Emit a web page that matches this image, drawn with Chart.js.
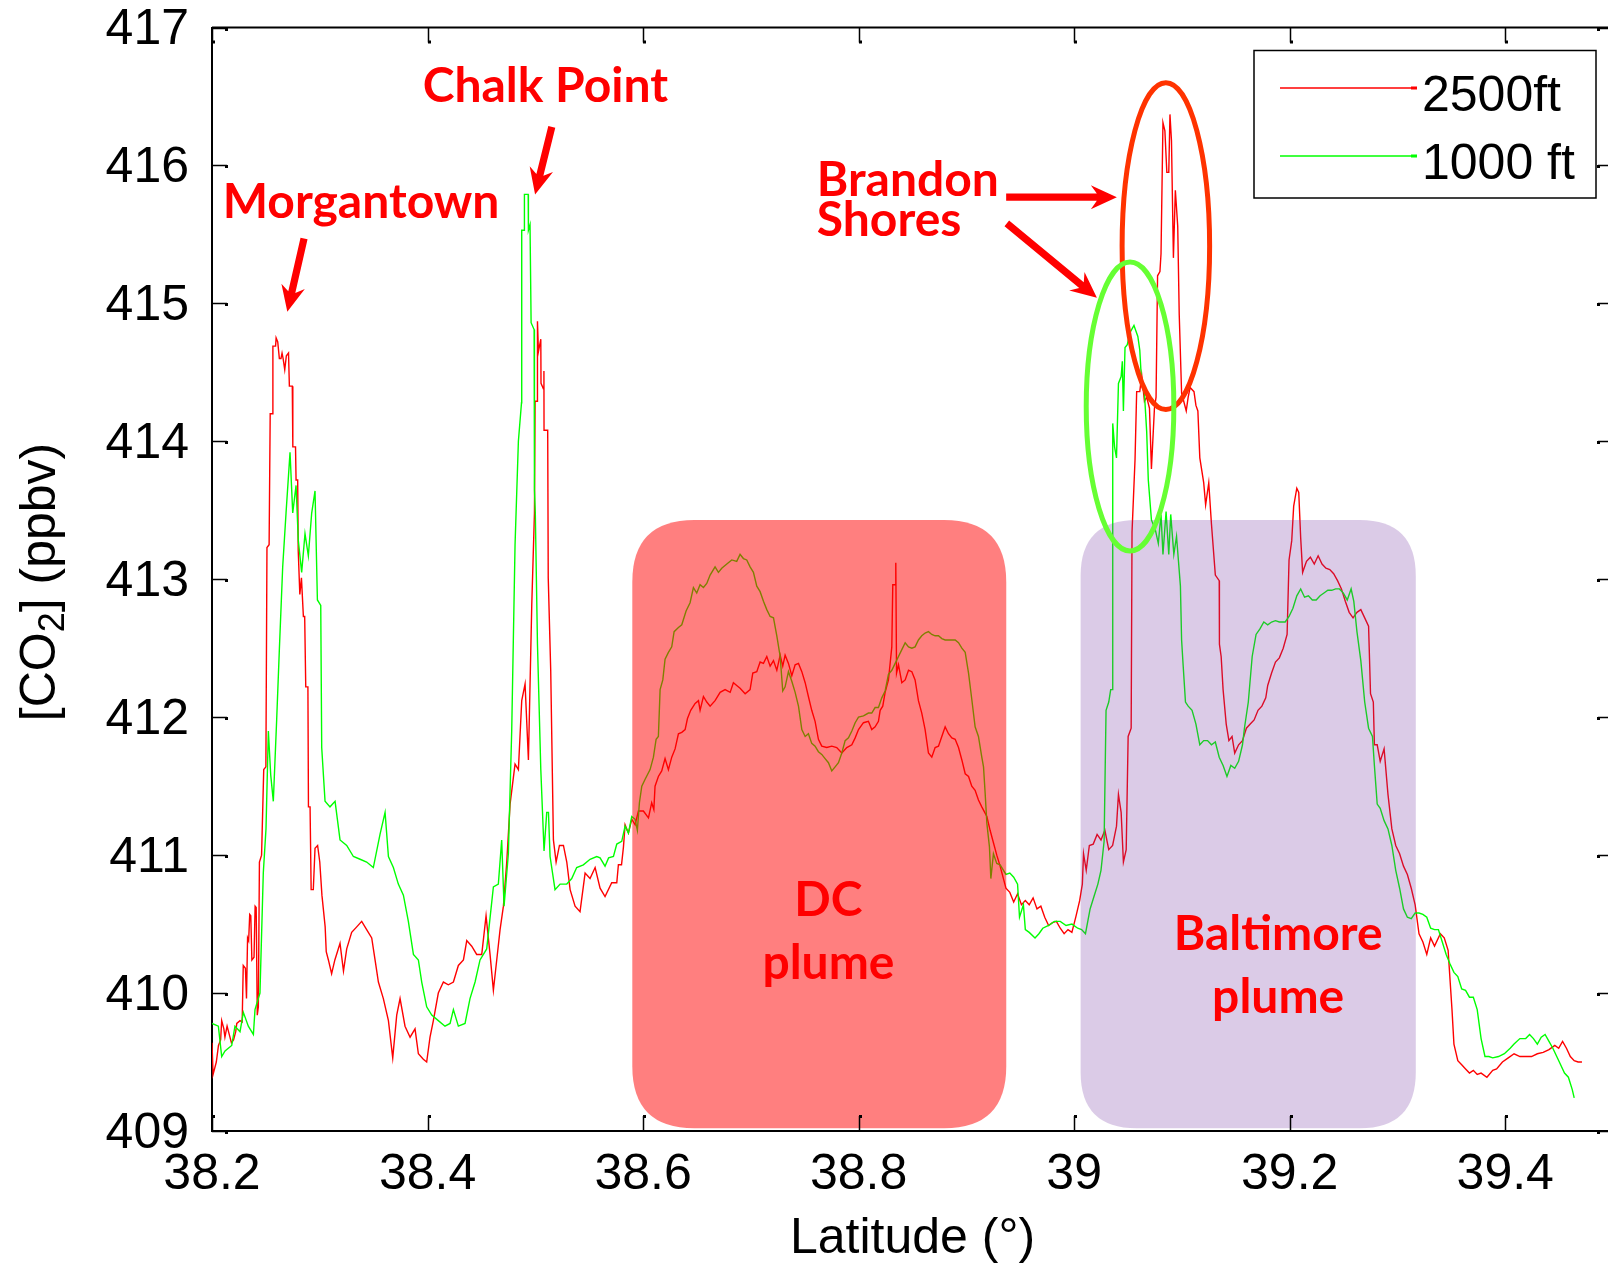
<!DOCTYPE html>
<html>
<head>
<meta charset="utf-8">
<title>CO2 vs latitude</title>
<script src="https://cdn.jsdelivr.net/npm/chart.js@4.4.0/dist/chart.umd.min.js"></script>
<style>
  html, body { margin: 0; padding: 0; background: #fff; overflow: hidden; }
  #wrap { position: absolute; left: 0; top: 0; width: 1625px; height: 1264px; }
</style>
</head>
<body>
<div id="wrap"><canvas id="co2Chart" width="1625" height="1264"></canvas></div>
<script>
// flight legs: [latitude, CO2 ppbv]
const track2500ft = [
  [38.200, 409.64], [38.201, 409.41], [38.204, 409.50], [38.206, 409.62], [38.208, 409.66], [38.209, 409.80],
  [38.211, 409.74], [38.212, 409.68], [38.214, 409.76], [38.216, 409.70], [38.218, 409.64], [38.220, 409.66],
  [38.222, 409.72], [38.223, 409.78], [38.226, 409.80], [38.228, 409.79], [38.229, 410.20], [38.231, 410.18],
  [38.232, 409.96], [38.233, 410.40], [38.234, 410.38], [38.235, 410.57], [38.236, 410.56], [38.237, 410.24],
  [38.239, 410.26], [38.240, 410.63], [38.241, 410.62], [38.242, 409.84], [38.243, 409.90], [38.244, 410.95],
  [38.246, 411.00], [38.248, 411.62], [38.250, 411.64], [38.251, 413.23], [38.253, 413.25], [38.254, 414.20],
  [38.256, 414.20], [38.2565, 414.69], [38.259, 414.69], [38.2595, 414.75], [38.261, 414.72], [38.2625, 414.60],
  [38.264, 414.60], [38.265, 414.64], [38.266, 414.60], [38.2675, 414.52], [38.269, 414.62], [38.271, 414.64],
  [38.2718, 414.40], [38.2745, 414.40], [38.275, 413.96], [38.2775, 413.96], [38.278, 413.72], [38.2795, 413.72],
  [38.280, 413.21], [38.2815, 412.89], [38.283, 413.01], [38.2848, 412.73], [38.286, 412.73], [38.287, 412.22],
  [38.289, 412.22], [38.2895, 411.35], [38.291, 411.35], [38.292, 410.75], [38.294, 410.75], [38.2956, 411.05],
  [38.298, 411.07], [38.300, 410.95], [38.302, 410.71], [38.305, 410.48], [38.306, 410.30], [38.308, 410.24],
  [38.311, 410.14], [38.314, 410.24], [38.3188, 410.36], [38.322, 410.16], [38.325, 410.32], [38.3296, 410.44],
  [38.3343, 410.48], [38.3389, 410.52], [38.3435, 410.46], [38.3482, 410.40], [38.3513, 410.24], [38.3544, 410.08],
  [38.359, 409.96], [38.3637, 409.80], [38.3677, 409.53], [38.3714, 409.84], [38.3745, 409.96], [38.3791, 409.76],
  [38.3838, 409.68], [38.3884, 409.74], [38.3915, 409.56], [38.3961, 409.52], [38.3992, 409.50], [38.4023, 409.68],
  [38.4054, 409.80], [38.410, 410.00], [38.4147, 410.08], [38.4193, 410.06], [38.424, 410.08], [38.4286, 410.20],
  [38.4333, 410.24], [38.4364, 410.38], [38.441, 410.34], [38.4456, 410.28], [38.4503, 410.28], [38.4543, 410.56],
  [38.458, 410.28], [38.4611, 410.02], [38.4642, 410.24], [38.4673, 410.46], [38.4704, 410.63], [38.4735, 410.95],
  [38.4766, 411.37], [38.4812, 411.66], [38.4843, 411.62], [38.4874, 412.12], [38.4905, 412.24], [38.4936, 411.69],
  [38.4967, 412.81], [38.4992, 413.48], [38.4998, 414.29], [38.5019, 414.29], [38.5020, 414.87], [38.5029, 414.65],
  [38.5051, 414.74], [38.5053, 414.42], [38.5075, 414.38], [38.5080, 414.51], [38.5081, 414.08], [38.5115, 414.08],
  [38.512, 413.01], [38.5143, 412.34], [38.5168, 411.11], [38.5193, 410.95], [38.5224, 411.07], [38.5261, 411.07],
  [38.5292, 410.95], [38.5323, 410.75], [38.5369, 410.63], [38.5415, 410.59], [38.5462, 410.87], [38.5508, 410.83],
  [38.5555, 410.91], [38.5601, 410.76], [38.5647, 410.70], [38.5709, 410.80], [38.5756, 410.80], [38.5771, 410.93],
  [38.5800, 410.93], [38.5818, 411.06], [38.5833, 411.22], [38.5864, 411.16], [38.5895, 411.26], [38.5926, 411.22],
  [38.5957, 411.32], [38.6003, 411.32], [38.6050, 411.27], [38.6080, 411.38], [38.6100, 411.33], [38.6111, 411.50],
  [38.6142, 411.57], [38.6173, 411.61], [38.6204, 411.70], [38.6235, 411.62], [38.6266, 411.71], [38.6297, 411.77],
  [38.6328, 411.88], [38.6359, 411.89], [38.6390, 411.91], [38.6412, 411.99], [38.6442, 412.05], [38.6483, 412.10],
  [38.6514, 412.12], [38.6529, 412.05], [38.6560, 412.15], [38.6591, 412.11], [38.6622, 412.08], [38.6668, 412.12],
  [38.6715, 412.18], [38.6761, 412.20], [38.6808, 412.18], [38.6838, 412.25], [38.6869, 412.23], [38.6900, 412.21],
  [38.6947, 412.17], [38.6993, 412.20], [38.7018, 412.32], [38.7055, 412.33], [38.7086, 412.40], [38.7117, 412.39],
  [38.7148, 412.44], [38.7179, 412.37], [38.7210, 412.41], [38.7241, 412.34], [38.7272, 412.45], [38.7296, 412.37],
  [38.7318, 412.45], [38.7349, 412.39], [38.7380, 412.30], [38.7411, 412.38], [38.7442, 412.39], [38.7473, 412.33],
  [38.7504, 412.25], [38.7534, 412.15], [38.7565, 412.05], [38.7596, 411.97], [38.7627, 411.84], [38.7658, 411.79],
  [38.7705, 411.78], [38.7751, 411.79], [38.7797, 411.78], [38.7844, 411.74], [38.7890, 411.78], [38.7937, 411.80],
  [38.7968, 411.85], [38.7999, 411.91], [38.8045, 411.96], [38.8091, 411.97], [38.8122, 411.91], [38.8153, 411.93],
  [38.8184, 411.97], [38.8200, 412.05], [38.8224, 412.08], [38.8246, 412.18], [38.8277, 412.27], [38.8308, 412.51],
  [38.8317, 412.96], [38.8340, 412.96], [38.8345, 413.12], [38.8352, 412.32], [38.8370, 412.38], [38.8401, 412.25],
  [38.8432, 412.27], [38.8463, 412.34], [38.8494, 412.33], [38.8524, 412.27], [38.8555, 412.12], [38.8586, 412.03],
  [38.8617, 411.91], [38.8648, 411.74], [38.8679, 411.71], [38.8710, 411.78], [38.8741, 411.79], [38.8772, 411.86],
  [38.8803, 411.93], [38.8834, 411.88], [38.8865, 411.85], [38.8896, 411.84], [38.8927, 411.78], [38.8958, 411.69],
  [38.8989, 411.59], [38.9020, 411.57], [38.9050, 411.50], [38.9081, 411.47], [38.9112, 411.40], [38.9143, 411.35],
  [38.9190, 411.28], [38.9220, 411.18], [38.9251, 411.09], [38.9282, 411.00], [38.9313, 410.92], [38.9367, 410.76],
  [38.9403, 410.73], [38.9439, 410.66], [38.9475, 410.72], [38.9511, 410.64], [38.9547, 410.67], [38.9583, 410.64],
  [38.9619, 410.69], [38.9655, 410.61], [38.9691, 410.63], [38.9727, 410.55], [38.9763, 410.49], [38.9799, 410.51],
  [38.9835, 410.52], [38.9871, 410.47], [38.9907, 410.43], [38.9943, 410.46], [38.9979, 410.44], [39.0015, 410.55],
  [39.0051, 410.67], [39.0076, 410.79], [39.0087, 411.01], [39.0112, 410.89], [39.0141, 411.07], [39.0177, 411.08],
  [39.0213, 411.15], [39.0249, 411.11], [39.0285, 411.18], [39.0321, 411.04], [39.0357, 411.07], [39.0393, 411.21],
  [39.0411, 411.44], [39.0436, 411.31], [39.0457, 410.95], [39.0483, 411.04], [39.0501, 411.86], [39.0529, 411.92],
  [39.0537, 413.34], [39.0565, 413.87], [39.0580, 414.36], [39.0609, 414.36], [39.0627, 414.48], [39.0652, 414.29],
  [39.0673, 414.32], [39.0699, 414.24], [39.0717, 413.80], [39.0745, 414.24], [39.0760, 414.32], [39.0774, 415.20],
  [39.0796, 415.23], [39.0806, 415.36], [39.0824, 416.31], [39.0842, 416.25], [39.0860, 415.95], [39.0878, 415.95],
  [39.0889, 416.37], [39.0903, 416.18], [39.0921, 415.33], [39.0939, 415.82], [39.0961, 415.56], [39.0975, 414.92],
  [39.0997, 414.35], [39.1040, 414.22], [39.1058, 414.32], [39.1076, 414.39], [39.1112, 414.36], [39.1130, 414.26],
  [39.1148, 414.22], [39.1166, 413.88], [39.1202, 413.70], [39.1220, 413.54], [39.1249, 413.70], [39.1274, 413.40],
  [39.1310, 413.03], [39.1346, 412.99], [39.1348, 412.53], [39.1364, 412.44], [39.1382, 412.20], [39.1411, 411.95],
  [39.1436, 411.83], [39.1465, 411.86], [39.1490, 411.74], [39.1526, 411.80], [39.1562, 411.83], [39.1598, 411.92],
  [39.1634, 411.95], [39.1670, 411.98], [39.1706, 412.05], [39.1742, 412.08], [39.1778, 412.14], [39.1796, 412.23],
  [39.1832, 412.32], [39.1868, 412.40], [39.1904, 412.43], [39.1940, 412.50], [39.1976, 412.60], [39.1994, 413.14],
  [39.2019, 413.28], [39.2037, 413.53], [39.2066, 413.66], [39.2084, 413.63], [39.2102, 413.30], [39.2120, 413.05],
  [39.2156, 413.13], [39.2192, 413.16], [39.2228, 413.11], [39.2264, 413.17], [39.2300, 413.11], [39.2336, 413.08],
  [39.2372, 413.07], [39.2408, 413.04], [39.2444, 412.99], [39.2480, 412.93], [39.2516, 412.84], [39.2552, 412.76],
  [39.2588, 412.72], [39.2624, 412.76], [39.2660, 412.78], [39.2696, 412.72], [39.2732, 412.66], [39.2750, 412.17],
  [39.2776, 412.11], [39.2786, 411.80], [39.2812, 411.80], [39.2840, 411.68], [39.2876, 411.77], [39.2912, 411.44],
  [39.2948, 411.19], [39.2984, 411.07], [39.3020, 411.01], [39.3056, 410.92], [39.3092, 410.86], [39.3128, 410.76],
  [39.3164, 410.64], [39.3200, 410.43], [39.3236, 410.37], [39.3272, 410.28], [39.3308, 410.40], [39.3344, 410.34],
  [39.3398, 410.43], [39.3434, 410.40], [39.3470, 410.31], [39.3506, 409.88], [39.3524, 409.63], [39.3560, 409.51],
  [39.3596, 409.48], [39.3632, 409.45], [39.3668, 409.42], [39.3704, 409.44], [39.3740, 409.41], [39.3776, 409.42],
  [39.3830, 409.39], [39.3884, 409.44], [39.3920, 409.45], [39.3974, 409.50], [39.4028, 409.53], [39.4082, 409.56],
  [39.4136, 409.54], [39.4190, 409.54], [39.4244, 409.54], [39.4298, 409.56], [39.4352, 409.57], [39.4406, 409.59],
  [39.4460, 409.62], [39.4496, 409.60], [39.4532, 409.65], [39.4568, 409.60], [39.4604, 409.54], [39.4640, 409.51],
  [39.4676, 409.50], [39.4712, 409.50]
];

const track1000ft = [
  [38.200, 409.78], [38.2059, 409.76], [38.209, 409.54], [38.2121, 409.58], [38.2183, 409.62], [38.2213, 409.76],
  [38.226, 409.72], [38.2291, 409.86], [38.2337, 409.76], [38.2384, 409.70], [38.2399, 409.88], [38.2445, 410.00],
  [38.2476, 410.87], [38.2501, 411.19], [38.2523, 411.90], [38.2545, 411.58], [38.2569, 411.39], [38.260, 411.98],
  [38.2625, 412.49], [38.2656, 413.09], [38.2687, 413.48], [38.2724, 413.92], [38.2749, 413.48], [38.278, 413.68],
  [38.2801, 413.28], [38.2832, 413.05], [38.2863, 413.33], [38.2894, 413.17], [38.2925, 413.48], [38.2956, 413.64],
  [38.2978, 412.85], [38.3009, 412.81], [38.3018, 411.78], [38.3049, 411.39], [38.3095, 411.35], [38.3142, 411.39],
  [38.3188, 411.11], [38.325, 411.07], [38.3312, 410.99], [38.3374, 410.97], [38.3435, 410.95], [38.3497, 410.91],
  [38.3559, 411.15], [38.3606, 411.31], [38.3637, 410.99], [38.3683, 410.91], [38.3729, 410.79], [38.3776, 410.71],
  [38.3822, 410.52], [38.3869, 410.28], [38.3915, 410.24], [38.3946, 410.08], [38.3992, 409.90], [38.4039, 409.84],
  [38.410, 409.80], [38.4162, 409.76], [38.4209, 409.78], [38.424, 409.88], [38.4286, 409.76], [38.4348, 409.78],
  [38.4394, 409.96], [38.4441, 410.08], [38.4487, 410.24], [38.4549, 410.32], [38.4611, 410.77], [38.4657, 410.79],
  [38.4688, 411.11], [38.471, 410.63], [38.475, 411.01], [38.4781, 411.90], [38.4812, 413.25], [38.4843, 414.00],
  [38.4872, 414.28], [38.4874, 415.53], [38.4897, 415.53], [38.4899, 415.79], [38.4934, 415.79], [38.4936, 415.53],
  [38.4951, 415.57], [38.4959, 415.57], [38.4961, 414.86], [38.4989, 414.81], [38.4992, 413.65], [38.5000, 413.48],
  [38.5020, 412.53], [38.5051, 411.62], [38.5081, 411.03], [38.5106, 411.31], [38.5122, 411.31], [38.5137, 410.99],
  [38.5183, 410.75], [38.5230, 410.79], [38.5292, 410.79], [38.5338, 410.83], [38.5384, 410.91], [38.5446, 410.93],
  [38.5508, 410.97], [38.5570, 410.99], [38.5601, 410.98], [38.5647, 410.92], [38.5680, 410.98], [38.5725, 410.99],
  [38.5756, 411.08], [38.5802, 411.10], [38.5833, 411.21], [38.5864, 411.16], [38.5895, 411.28], [38.5926, 411.26],
  [38.5947, 411.18], [38.5966, 411.38], [38.5988, 411.50], [38.6019, 411.55], [38.6065, 411.62], [38.6096, 411.71],
  [38.6121, 411.84], [38.6142, 411.86], [38.6158, 412.20], [38.6183, 412.27], [38.6204, 412.42], [38.6235, 412.47],
  [38.6266, 412.51], [38.6288, 412.62], [38.6328, 412.65], [38.6359, 412.67], [38.6399, 412.77], [38.6436, 412.83],
  [38.6467, 412.94], [38.6498, 412.90], [38.6529, 412.96], [38.6560, 412.94], [38.6591, 412.97], [38.6622, 413.03],
  [38.6668, 413.09], [38.6699, 413.05], [38.6730, 413.08], [38.6777, 413.11], [38.6823, 413.14], [38.6869, 413.13],
  [38.6900, 413.18], [38.6931, 413.15], [38.6962, 413.14], [38.6993, 413.09], [38.7024, 413.05], [38.7055, 412.95],
  [38.7086, 412.91], [38.7117, 412.84], [38.7148, 412.78], [38.7179, 412.73], [38.7210, 412.72], [38.7241, 412.59],
  [38.7272, 412.44], [38.7296, 412.19], [38.7318, 412.22], [38.7349, 412.33], [38.7380, 412.26], [38.7411, 412.18],
  [38.7442, 412.08], [38.7473, 411.91], [38.7504, 411.86], [38.7534, 411.88], [38.7565, 411.81], [38.7596, 411.79],
  [38.7627, 411.75], [38.7658, 411.73], [38.7689, 411.70], [38.7720, 411.67], [38.7751, 411.61], [38.7782, 411.64],
  [38.7813, 411.67], [38.7844, 411.74], [38.7875, 411.83], [38.7906, 411.85], [38.7937, 411.90], [38.7968, 411.96],
  [38.7999, 412.00], [38.8045, 412.01], [38.8091, 412.03], [38.8122, 412.03], [38.8153, 412.07], [38.8184, 412.07],
  [38.8215, 412.14], [38.8246, 412.19], [38.8277, 412.31], [38.8308, 412.34], [38.8339, 412.39], [38.8370, 412.44],
  [38.8401, 412.49], [38.8432, 412.54], [38.8463, 412.51], [38.8494, 412.50], [38.8524, 412.51], [38.8555, 412.56],
  [38.8586, 412.59], [38.8617, 412.61], [38.8648, 412.62], [38.8679, 412.60], [38.8710, 412.59], [38.8741, 412.59],
  [38.8772, 412.57], [38.8803, 412.56], [38.8865, 412.56], [38.8896, 412.56], [38.8927, 412.54], [38.8958, 412.50],
  [38.8989, 412.47], [38.9020, 412.32], [38.9050, 412.13], [38.9081, 411.93], [38.9112, 411.86], [38.9143, 411.71],
  [38.9159, 411.64], [38.9174, 411.45], [38.9190, 411.23], [38.9214, 411.06], [38.9227, 410.83], [38.9251, 411.01],
  [38.9282, 410.94], [38.9313, 410.93], [38.9367, 410.86], [38.9403, 410.87], [38.9439, 410.84], [38.9475, 410.79],
  [38.9493, 410.55], [38.9529, 410.64], [38.9547, 410.46], [38.9583, 410.44], [38.9637, 410.40], [38.9673, 410.43],
  [38.9709, 410.47], [38.9763, 410.49], [38.9817, 410.52], [38.9871, 410.52], [38.9925, 410.49], [38.9979, 410.50],
  [39.0033, 410.47], [39.0069, 410.46], [39.0105, 410.43], [39.0148, 410.61], [39.0184, 410.70], [39.0220, 410.79],
  [39.0249, 410.89], [39.0278, 411.10], [39.0296, 412.05], [39.0321, 412.11], [39.0339, 412.20], [39.0357, 412.20],
  [39.0358, 414.13], [39.0375, 413.96], [39.0393, 413.88], [39.0411, 414.42], [39.0436, 414.47], [39.0447, 414.58],
  [39.0457, 414.22], [39.0472, 414.68], [39.0493, 414.70], [39.0519, 414.79], [39.0555, 414.84], [39.0573, 414.80],
  [39.0591, 414.76], [39.0609, 414.66], [39.0627, 414.41], [39.0652, 414.35], [39.0673, 414.07], [39.0688, 413.72],
  [39.0717, 413.43], [39.0753, 413.36], [39.0781, 413.26], [39.0806, 413.47], [39.0824, 413.18], [39.0853, 413.49],
  [39.0878, 413.18], [39.0896, 413.47], [39.0925, 413.18], [39.0950, 413.31], [39.0968, 413.13], [39.0986, 412.95],
  [39.0997, 412.56], [39.1011, 412.38], [39.1033, 412.11], [39.1058, 412.08], [39.1094, 412.05], [39.1130, 411.95],
  [39.1166, 411.80], [39.1202, 411.83], [39.1238, 411.83], [39.1274, 411.80], [39.1310, 411.82], [39.1346, 411.71],
  [39.1382, 411.65], [39.1418, 411.57], [39.1454, 411.65], [39.1490, 411.63], [39.1526, 411.68], [39.1562, 411.80],
  [39.1580, 411.92], [39.1616, 412.11], [39.1652, 412.44], [39.1688, 412.60], [39.1724, 412.64], [39.1760, 412.69],
  [39.1796, 412.67], [39.1832, 412.69], [39.1868, 412.70], [39.1904, 412.69], [39.1958, 412.69], [39.1994, 412.73],
  [39.2030, 412.79], [39.2066, 412.88], [39.2102, 412.93], [39.2138, 412.87], [39.2174, 412.88], [39.2210, 412.85],
  [39.2246, 412.85], [39.2282, 412.88], [39.2318, 412.90], [39.2354, 412.92], [39.2390, 412.92], [39.2426, 412.93],
  [39.2462, 412.93], [39.2498, 412.90], [39.2534, 412.85], [39.2570, 412.93], [39.2595, 412.84], [39.2624, 412.62],
  [39.2660, 412.41], [39.2696, 412.11], [39.2732, 411.92], [39.2768, 411.86], [39.2786, 411.65], [39.2812, 411.37],
  [39.2840, 411.34], [39.2876, 411.25], [39.2912, 411.19], [39.2948, 411.07], [39.2984, 410.89], [39.3020, 410.76],
  [39.3056, 410.61], [39.3092, 410.55], [39.3128, 410.54], [39.3164, 410.58], [39.3200, 410.58], [39.3236, 410.57],
  [39.3272, 410.55], [39.3308, 410.47], [39.3344, 410.46], [39.3380, 410.46], [39.3416, 410.37], [39.3452, 410.28],
  [39.3488, 410.21], [39.3524, 410.15], [39.3560, 410.12], [39.3596, 410.03], [39.3632, 410.02], [39.3668, 409.97],
  [39.3704, 409.97], [39.3740, 409.88], [39.3776, 409.67], [39.3812, 409.54], [39.3848, 409.54], [39.3884, 409.53],
  [39.3938, 409.54], [39.3992, 409.56], [39.4046, 409.60], [39.4082, 409.63], [39.4136, 409.67], [39.4190, 409.67],
  [39.4226, 409.70], [39.4262, 409.67], [39.4298, 409.63], [39.4334, 409.68], [39.4370, 409.70], [39.4406, 409.65],
  [39.4442, 409.60], [39.4478, 409.54], [39.4514, 409.48], [39.4550, 409.42], [39.4586, 409.39], [39.4622, 409.30],
  [39.4640, 409.24]
];

const latTicks = [38.2, 38.4, 38.6, 38.8, 39.0, 39.2, 39.4];
const co2Ticks = [409, 410, 411, 412, 413, 414, 415, 416, 417];
const seriesNames = ['2500ft', '1000 ft'];

// plume boxes, power plant labels, arrows and ellipses (lat / ppbv)
const plumeBoxes = [
  { x0: 38.590, x1: 38.937, y0: 409.02, y1: 413.43, fill: 'rgba(255, 0, 0, 0.5)', r: 62 },
  { x0: 39.006, x1: 39.317, y0: 409.02, y1: 413.43, fill: 'rgba(112, 48, 160, 0.25)', r: 56 }
];
const plumeLabels = [
  { lines: ['DC', 'plume'], x: 38.772, y: 410.56 },
  { lines: ['Baltimore', 'plume'], x: 39.1893, y: 410.31 }
];
const plantLabels = [
  { lines: ['Morgantown'], x: 38.3383, y: 415.62, align: 'center' },
  { lines: ['Chalk Point'], x: 38.5093, y: 416.46, align: 'center' },
  { lines: ['Brandon', 'Shores'], x: 38.7612, y: 415.78, align: 'left' }
];
const arrows = [
  [38.2854, 415.47, 38.2699, 414.94],
  [38.5153, 416.28, 38.4998, 415.79],
  [38.9369, 415.77, 39.0396, 415.77],
  [38.9375, 415.58, 39.0211, 415.04]
];
const rings = [
  { x0: 39.0445, x1: 39.1257, y0: 414.23, y1: 416.60, color: '#ff3300' },
  { x0: 39.0112, x1: 39.0925, y0: 413.205, y1: 415.30, color: '#66ff33' }
];

const axisFont = '"Liberation Sans", Arial, sans-serif';
const noteFont = 'Lato, "Open Sans", sans-serif';

function roundRect(ctx, x, y, w, h, r) {
  ctx.beginPath();
  ctx.moveTo(x + r, y);
  ctx.lineTo(x + w - r, y);
  ctx.quadraticCurveTo(x + w, y, x + w, y + r);
  ctx.lineTo(x + w, y + h - r);
  ctx.quadraticCurveTo(x + w, y + h, x + w - r, y + h);
  ctx.lineTo(x + r, y + h);
  ctx.quadraticCurveTo(x, y + h, x, y + h - r);
  ctx.lineTo(x, y + r);
  ctx.quadraticCurveTo(x, y, x + r, y);
  ctx.closePath();
}

function drawArrow(ctx, x1, y1, x2, y2) {
  const len = Math.hypot(x2 - x1, y2 - y1);
  ctx.save();
  ctx.translate(x1, y1);
  ctx.rotate(Math.atan2(y2 - y1, x2 - x1));
  ctx.beginPath();
  ctx.moveTo(0, -3.6);
  ctx.lineTo(len - 20, -3.6);
  ctx.lineTo(len - 26, -12);
  ctx.lineTo(len, 0);
  ctx.lineTo(len - 26, 12);
  ctx.lineTo(len - 20, 3.6);
  ctx.lineTo(0, 3.6);
  ctx.closePath();
  ctx.fillStyle = '#ff0000';
  ctx.fill();
  ctx.restore();
}

const plumeDecor = {
  id: 'plumeDecor',
  afterDatasetsDraw(chart) {
    const { ctx, scales: { x, y } } = chart;
    ctx.save();
    plumeBoxes.forEach(b => {
      const left = x.getPixelForValue(b.x0), right = x.getPixelForValue(b.x1);
      const top = y.getPixelForValue(b.y1), bottom = y.getPixelForValue(b.y0);
      roundRect(ctx, left, top, right - left, bottom - top, b.r);
      ctx.fillStyle = b.fill;
      ctx.fill();
    });
    ctx.restore();
  },
  afterDraw(chart) {
    const { ctx, chartArea: a, scales: { x, y } } = chart;
    ctx.save();

    // box top edge and inward ticks on all four sides
    ctx.strokeStyle = '#000';
    ctx.lineWidth = 2;
    ctx.beginPath();
    ctx.moveTo(a.left, a.top);
    ctx.lineTo(a.right, a.top);
    ctx.stroke();
    ctx.lineWidth = 1.5;
    ctx.fillStyle = '#000';
    latTicks.forEach(v => {
      const px = Math.round(x.getPixelForValue(v)) + 0.5;
      ctx.beginPath();
      ctx.moveTo(px, a.bottom); ctx.lineTo(px, a.bottom - 15);
      ctx.moveTo(px, a.top); ctx.lineTo(px, a.top + 15);
      ctx.stroke();
      ctx.fillRect(px - 0.5, a.bottom - 16, 3, 3);
      ctx.fillRect(px - 0.5, a.top + 13, 3, 3);
    });
    co2Ticks.forEach(v => {
      const py = Math.round(y.getPixelForValue(v)) + 0.5;
      ctx.beginPath();
      ctx.moveTo(a.left, py); ctx.lineTo(a.left + 15, py);
      ctx.moveTo(a.right, py); ctx.lineTo(a.right - 15, py);
      ctx.stroke();
      ctx.fillRect(a.left + 13, py - 0.5, 3, 3);
      ctx.fillRect(a.right - 16, py - 0.5, 3, 3);
    });

    // y axis title with subscript
    ctx.translate(41, 582);
    ctx.rotate(-Math.PI / 2);
    ctx.textBaseline = 'middle';
    ctx.textAlign = 'left';
    const parts = [['[CO', 50, 0], ['2', 36, 13], ['] (ppbv)', 50, 0]];
    let total = 0;
    parts.forEach(p => { ctx.font = p[1] + 'px ' + axisFont; total += ctx.measureText(p[0]).width; });
    let cx = -total / 2;
    parts.forEach(p => {
      ctx.font = p[1] + 'px ' + axisFont;
      ctx.fillText(p[0], cx, p[2]);
      cx += ctx.measureText(p[0]).width;
    });
    ctx.restore();

    ctx.save();
    // circled Brandon Shores peaks
    rings.forEach(r => {
      const l = x.getPixelForValue(r.x0), rt = x.getPixelForValue(r.x1);
      const t = y.getPixelForValue(r.y1), b = y.getPixelForValue(r.y0);
      ctx.beginPath();
      ctx.ellipse((l + rt) / 2, (t + b) / 2, (rt - l) / 2, (b - t) / 2, 0, 0, Math.PI * 2);
      ctx.strokeStyle = r.color;
      ctx.lineWidth = 5;
      ctx.stroke();
    });

    arrows.forEach(p => drawArrow(ctx, x.getPixelForValue(p[0]), y.getPixelForValue(p[1]),
      x.getPixelForValue(p[2]), y.getPixelForValue(p[3])));

    ctx.fillStyle = '#ff0000';
    ctx.font = 'bold 48px ' + noteFont;
    ctx.textBaseline = 'alphabetic';
    plantLabels.forEach(lb => {
      ctx.textAlign = lb.align;
      lb.lines.forEach((t, i) => ctx.fillText(t, x.getPixelForValue(lb.x), y.getPixelForValue(lb.y) + i * 40));
    });
    ctx.textAlign = 'center';
    plumeLabels.forEach(lb => {
      lb.lines.forEach((t, i) => ctx.fillText(t, x.getPixelForValue(lb.x), y.getPixelForValue(lb.y) + i * 63));
    });

    // legend
    ctx.fillStyle = '#fff';
    ctx.fillRect(1254, 50.5, 342, 147.5);
    ctx.strokeStyle = '#000';
    ctx.lineWidth = 1.5;
    ctx.strokeRect(1254, 50.5, 342, 147.5);
    const legendColors = chart.data.datasets.map(d => d.borderColor);
    [88, 156].forEach((ly, i) => {
      ctx.strokeStyle = legendColors[i];
      ctx.lineWidth = 1.4;
      ctx.beginPath();
      ctx.moveTo(1280, ly); ctx.lineTo(1415, ly);
      ctx.stroke();
      ctx.fillStyle = legendColors[i];
      ctx.fillRect(1411, ly - 1.5, 6, 3);
      ctx.fillStyle = '#000';
      ctx.font = '50px ' + axisFont;
      ctx.textAlign = 'left';
      ctx.fillText(seriesNames[i], 1422, ly + 23);
    });
    ctx.restore();
  }
};

document.addEventListener('DOMContentLoaded', () => {
  const ctx = document.getElementById('co2Chart').getContext('2d');
  new Chart(ctx, {
    type: 'line',
    data: {
      datasets: [
        {
          label: seriesNames[0],
          data: track2500ft.map(([lat, co2]) => ({ x: lat, y: co2 })),
          borderColor: '#ff0000',
          borderWidth: 1.4,
          pointRadius: 0,
          tension: 0,
          fill: false,
          order: 2
        },
        {
          label: seriesNames[1],
          data: track1000ft.map(([lat, co2]) => ({ x: lat, y: co2 })),
          borderColor: '#00ff00',
          borderWidth: 1.4,
          pointRadius: 0,
          tension: 0,
          fill: false,
          order: 1
        }
      ]
    },
    options: {
      responsive: false,
      animation: false,
      devicePixelRatio: 1,
      layout: { padding: { top: 27.5, right: 12, left: 0, bottom: 0 } },
      plugins: { legend: { display: false }, tooltip: { enabled: false } },
      scales: {
        x: {
          type: 'linear',
          min: 38.2,
          max: 39.5,
          afterBuildTicks: s => { s.ticks = latTicks.map(v => ({ value: v })); },
          afterFit: s => { s.height = 133; s.paddingLeft = 0; s.paddingRight = 0; },
          grid: { display: false },
          border: { display: true, color: '#000', width: 2 },
          ticks: {
            color: '#000',
            font: { family: axisFont, size: 50 },
            padding: 6,
            maxRotation: 0,
            autoSkip: false,
            callback: v => String(v)
          },
          title: {
            display: true,
            text: 'Latitude (°)',
            color: '#000',
            font: { family: axisFont, size: 50, lineHeight: 1 },
            padding: { top: 3, bottom: 0 }
          }
        },
        y: {
          type: 'linear',
          min: 409,
          max: 417,
          afterBuildTicks: s => { s.ticks = co2Ticks.map(v => ({ value: v })); },
          afterFit: s => { s.width = 212; s.paddingTop = 0; s.paddingBottom = 0; },
          grid: { display: false },
          border: { display: true, color: '#000', width: 2 },
          ticks: {
            color: '#000',
            font: { family: axisFont, size: 50 },
            padding: 15,
            labelOffset: 3,
            callback: v => String(v)
          }
        }
      }
    },
    plugins: [plumeDecor]
  });
});
</script>
</body>
</html>
